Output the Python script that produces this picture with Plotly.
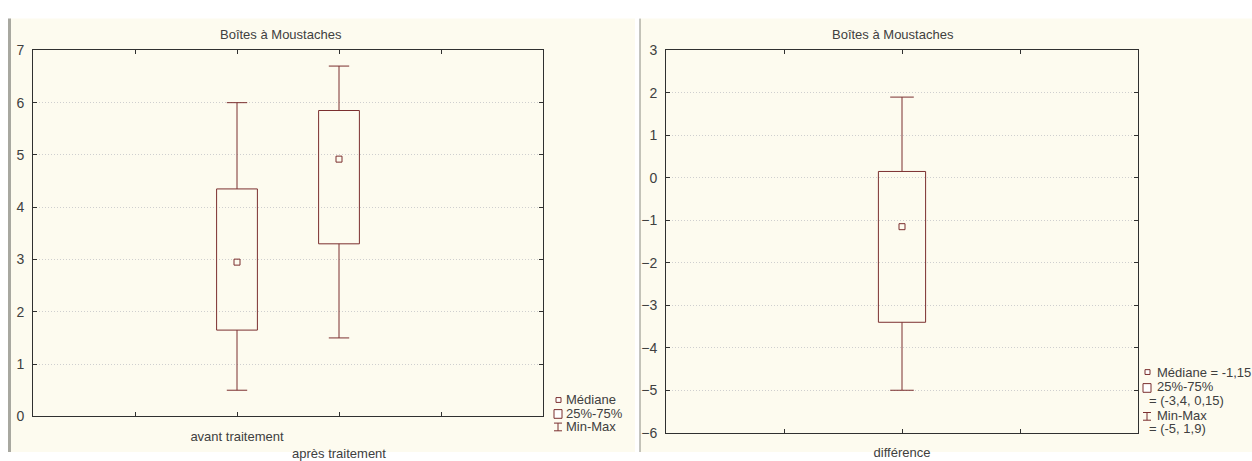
import plotly.graph_objects as go

# ---- data -------------------------------------------------------------
groups_left = ["avant traitement", "après traitement"]
min_left = [0.5, 1.5]
q1_left = [1.65, 3.3]
median_left = [2.95, 4.92]
q3_left = [4.35, 5.85]
max_left = [6.0, 6.7]

groups_right = ["différence"]
min_right = [-5.0]
q1_right = [-3.4]
median_right = [-1.15]
q3_right = [0.15]
max_right = [1.9]

title_text = "Boîtes à Moustaches"

# ---- style ------------------------------------------------------------
W, H = 1252, 461
BOX = "#7b2f2f"
PANEL = "#fdfbef"
TEXT = "#404040"
FONT = "Liberation Sans, Arial, sans-serif"
HALF_BOX = 0.2
HALF_CAP = 0.1


def px(x):
    return x / W


def py(y):
    return 1 - y / H


fig = go.Figure()


def add_boxes(positions, mins, q1s, meds, q3s, maxs, xa, ya):
    for p, lo, a, m, b, hi in zip(positions, mins, q1s, meds, q3s, maxs):
        fig.add_trace(go.Scatter(
            x=[p - HALF_BOX, p + HALF_BOX, p + HALF_BOX, p - HALF_BOX, p - HALF_BOX],
            y=[a, a, b, b, a], mode="lines", xaxis=xa, yaxis=ya,
            line=dict(color=BOX, width=1), showlegend=False, hoverinfo="skip"))
        fig.add_trace(go.Scatter(
            x=[p, p, None, p - HALF_CAP, p + HALF_CAP, None,
               p, p, None, p - HALF_CAP, p + HALF_CAP],
            y=[b, hi, None, hi, hi, None, a, lo, None, lo, lo],
            mode="lines", xaxis=xa, yaxis=ya,
            line=dict(color=BOX, width=1), showlegend=False, hoverinfo="skip"))
        fig.add_trace(go.Scatter(
            x=[p], y=[m], mode="markers", xaxis=xa, yaxis=ya,
            marker=dict(symbol="square-open", size=6, color=BOX, line=dict(width=1)),
            showlegend=False))


pos_left = [2 + i for i in range(len(groups_left))]
pos_right = [2 + i for i in range(len(groups_right))]
add_boxes(pos_left, min_left, q1_left, median_left, q3_left, max_left, "x", "y")
add_boxes(pos_right, min_right, q1_right, median_right, q3_right, max_right, "x2", "y2")

axis_common = dict(
    showline=True, linecolor="#303030", linewidth=1, mirror="ticks",
    ticks="inside", ticklen=4, tickcolor="#303030", zeroline=False,
)
xfont = dict(family=FONT, size=13, color=TEXT)
yfont = dict(family=FONT, size=14, color=TEXT)
GRID = dict(showgrid=True, gridcolor="#cfcfcf", griddash="1px,2px", gridwidth=1)

left_ticktext = []
for i, g in enumerate(groups_left):
    left_ticktext.append(g if i % 2 == 0 else "<br>" + g)

fig.update_layout(
    width=W, height=H, margin=dict(l=0, r=0, t=0, b=0),
    paper_bgcolor="white", plot_bgcolor="white", showlegend=False,
    xaxis=dict(domain=[px(33), px(543)], range=[0, 5],
               tickvals=[1] + pos_left + [4], ticktext=[""] + left_ticktext + [""],
               showgrid=False, anchor="y", tickfont=xfont, ticklabelstandoff=8,
               **axis_common),
    yaxis=dict(domain=[py(424), py(44)], range=[0, 7], dtick=1,
               ticklabelstandoff=5, anchor="x", tickfont=yfont,
               **GRID, **axis_common),
    xaxis2=dict(domain=[px(666), px(1138)], range=[0, 4],
                tickvals=[1] + pos_right + [3], ticktext=[""] + groups_right + [""],
                showgrid=False, anchor="y2", tickfont=xfont, ticklabelstandoff=8,
                **axis_common),
    yaxis2=dict(domain=[py(441), py(44)], range=[-6, 3], dtick=1,
                ticklabelstandoff=5, anchor="x2", tickfont=yfont,
                **GRID, **axis_common),
)

shapes = [
    # panel backgrounds
    dict(type="rect", xref="paper", yref="paper", x0=px(10), x1=px(635),
         y0=0, y1=py(11), fillcolor=PANEL, line=dict(width=0), layer="below"),
    dict(type="rect", xref="paper", yref="paper", x0=px(640), x1=1,
         y0=0, y1=py(11), fillcolor=PANEL, line=dict(width=0), layer="below"),
    # panel edges
    dict(type="rect", xref="paper", yref="paper", x0=px(8), x1=px(11),
         y0=0, y1=py(11), fillcolor="#a8a8a0", line=dict(width=0), layer="below"),
    dict(type="line", xref="paper", yref="paper", x0=px(640), x1=px(640),
         y0=0, y1=py(11), line=dict(color="#8a8a80", width=1), layer="below"),
]


def legend_marks(x0, y_med, y_box, y_mm):
    out = []
    # median square
    out.append(dict(type="rect", xref="paper", yref="paper",
                    x0=px(x0 + 2), x1=px(x0 + 7), y0=py(y_med + 2.5), y1=py(y_med - 2.5),
                    line=dict(color=BOX, width=1), fillcolor="white"))
    # quartile box
    out.append(dict(type="rect", xref="paper", yref="paper",
                    x0=px(x0), x1=px(x0 + 8), y0=py(y_box + 5), y1=py(y_box - 4),
                    line=dict(color=BOX, width=1), fillcolor="white"))
    # min-max whisker
    out.append(dict(type="line", xref="paper", yref="paper",
                    x0=px(x0 + 4), x1=px(x0 + 4), y0=py(y_mm + 4), y1=py(y_mm - 4),
                    line=dict(color=BOX, width=1)))
    for yy in (y_mm - 4, y_mm + 4):
        out.append(dict(type="line", xref="paper", yref="paper",
                        x0=px(x0), x1=px(x0 + 8), y0=py(yy), y1=py(yy),
                        line=dict(color=BOX, width=1)))
    return out


shapes += legend_marks(554, 407, 421, 435)
shapes += legend_marks(1143, 378, 394, 424)
fig.update_layout(shapes=shapes)

annotations = [
    dict(text=title_text, x=px(281), y=py(28), size=13),
    dict(text=title_text, x=px(893), y=py(28), size=13),
]
legend_left = [("Médiane", 407), ("25%-75%", 421), ("Min-Max", 435)]
legend_right = [
    ("Médiane = " + f"{median_right[0]:.2f}".replace(".", ","), 378),
    ("25%-75%", 393),
    ("= (" + f"{q1_right[0]:g}".replace(".", ",") + ", "
     + f"{q3_right[0]:g}".replace(".", ",") + ")", 408),
    ("Min-Max", 423),
    ("= (" + f"{min_right[0]:g}".replace(".", ",") + ", "
     + f"{max_right[0]:g}".replace(".", ",") + ")", 437),
]
for t, yy in legend_left:
    annotations.append(dict(text=t, x=px(564), y=py(yy), xanchor="left", size=13))
for i, (t, yy) in enumerate(legend_right):
    annotations.append(dict(text=t, x=px(1155 if i in (0, 1, 3) else 1147),
                            y=py(yy), xanchor="left", size=13))

for a in annotations:
    a.setdefault("xanchor", "center")
    size = a.pop("size")
    a.update(xref="paper", yref="paper", yanchor="middle", showarrow=False,
             font=dict(family=FONT, size=size, color=TEXT))
fig.update_layout(annotations=annotations)

fig.write_html("out.html")
